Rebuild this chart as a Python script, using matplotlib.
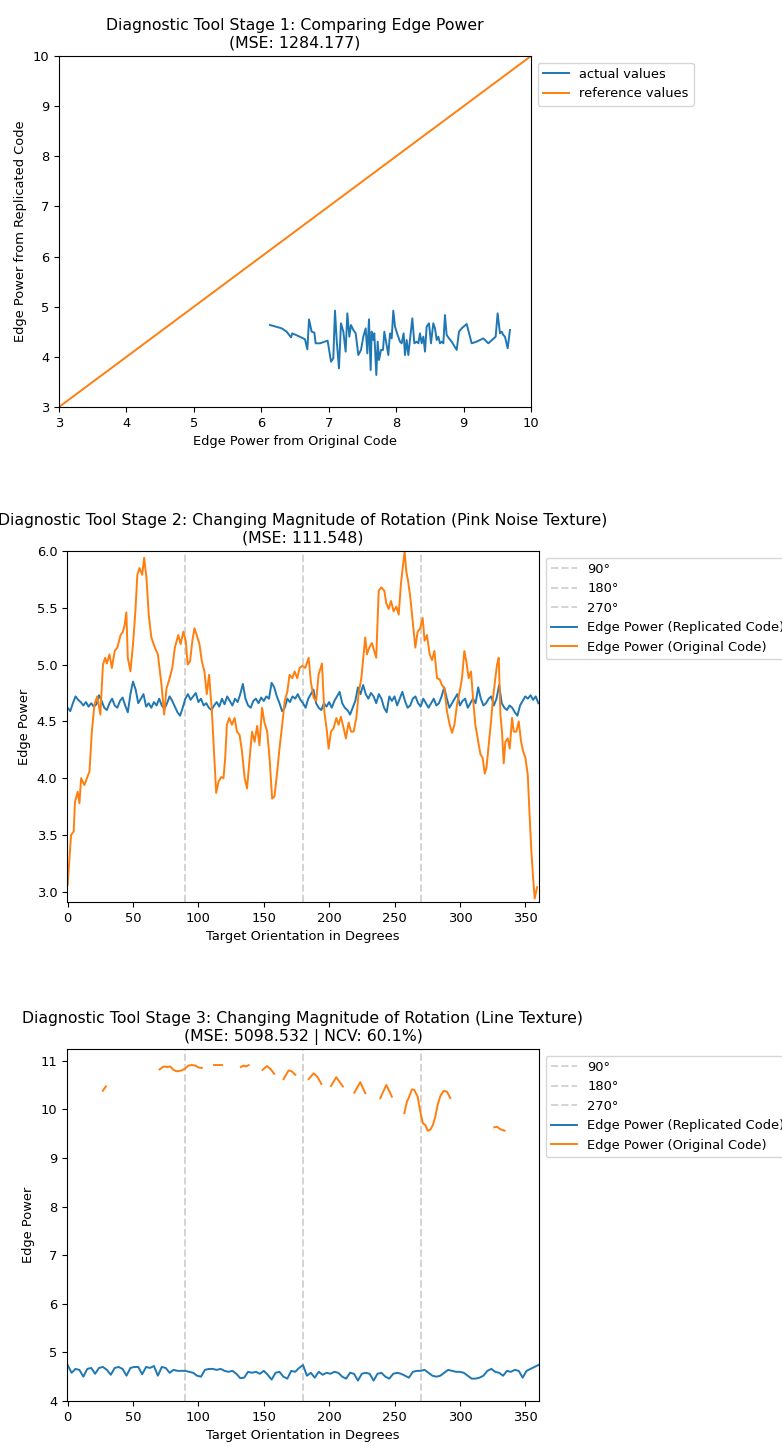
import numpy as np
import matplotlib
matplotlib.use("Agg")
import matplotlib.pyplot as plt

plt.rcParams['font.size'] = 9.4
plt.rcParams['axes.titlesize'] = 11.3
plt.rcParams['lines.linewidth'] = 1.4

# Stage 1: edge power, original vs replicated
s1_orig = [6.129, 6.302, 6.376, 6.441, 6.460, 6.549, 6.648, 6.683, 6.708, 6.747,
           6.787, 6.806, 6.871, 6.984, 7.034, 7.068, 7.093, 7.118, 7.152, 7.182,
           7.217, 7.251, 7.276, 7.306, 7.330, 7.365, 7.400, 7.439, 7.479, 7.513,
           7.548, 7.573, 7.597, 7.622, 7.637, 7.662, 7.676, 7.706, 7.726, 7.746,
           7.775, 7.805, 7.825, 7.859, 7.884, 7.909, 7.934, 7.958, 7.983, 8.022,
           8.057, 8.082, 8.111, 8.131, 8.156, 8.181, 8.210, 8.240, 8.270, 8.304,
           8.329, 8.354, 8.378, 8.403, 8.428, 8.452, 8.487, 8.517, 8.551, 8.576,
           8.601, 8.626, 8.650, 8.675, 8.700, 8.724, 8.749, 8.784, 8.823, 8.898,
           8.932, 8.972, 9.046, 9.120, 9.194, 9.293, 9.367, 9.476, 9.505, 9.540,
           9.565, 9.589, 9.614, 9.654, 9.688]
s1_repl = [4.635, 4.569, 4.502, 4.389, 4.469, 4.416, 4.350, 4.150, 4.748, 4.502,
           4.483, 4.270, 4.270, 4.323, 3.904, 3.971, 4.921, 4.336, 3.771, 4.669,
           4.502, 4.104, 4.868, 4.403, 4.635, 4.536, 4.469, 4.037, 4.137, 4.403,
           4.569, 4.070, 4.748, 3.738, 4.502, 4.336, 4.469, 3.638, 4.303, 3.937,
           4.137, 4.137, 4.502, 4.237, 4.037, 4.469, 4.369, 4.921, 4.602, 4.436,
           4.303, 4.270, 4.469, 4.037, 4.336, 4.037, 4.403, 4.768, 4.270, 4.303,
           4.270, 4.469, 4.270, 4.403, 4.104, 4.602, 4.669, 4.270, 4.669, 4.569,
           4.336, 4.403, 4.270, 4.303, 4.270, 4.835, 4.436, 4.369, 4.303, 4.137,
           4.502, 4.569, 4.655, 4.270, 4.303, 4.369, 4.270, 4.403, 4.868, 4.469,
           4.502, 4.436, 4.403, 4.170, 4.536]
ref_line = [3, 10]

# Stage 2: pink noise texture
s2_orig_deg = [0, 2.6, 4.6, 5.6, 7.7, 9, 10.3, 12.8, 16.7, 18.5, 20.5, 22.6, 25, 27,
               28.7, 30, 32, 33.8, 36, 38, 40.5, 42.3, 43.6, 44.9, 46, 48, 50, 51.8,
               53.3, 55, 57, 58.5, 60.3, 62, 64, 66.7, 69, 71.8, 73.8, 75.6, 78, 80,
               82, 84.6, 86.4, 88.5, 90.3, 91.8, 93.6, 95.4, 97, 98.7, 100.8, 102.6,
               104.6, 106.4, 108.2, 110.3, 112.3, 113.6, 115.4, 117.4, 119.2, 120.5,
               121.8, 123.6, 125.6, 127.7, 129.5, 131.5, 133.3, 135.4, 137.2, 139,
               141, 143, 144.9, 146.7, 148.7, 150.5, 152.6, 154.4, 156.4, 158.2,
               160.3, 162, 164, 166, 168, 169.7, 171.8, 173.6, 175.6, 177.4, 179.5,
               181.7, 184.3, 186, 188.1, 190.1, 191.9, 194.5, 196.3, 198.3, 199.6,
               201.4, 203.4, 205.5, 207.2, 209, 211.1, 212.8, 214.9, 216.7, 218.7,
               220.8, 222.5, 224.6, 225.9, 227.6, 228.9, 230.7, 232.7, 234.5, 236,
               237.9, 239.9, 242.2, 243.7, 245.5, 247.3, 249.3, 251.4, 253.2, 254.9,
               256.5, 257.7, 259, 260.3, 262.1, 263.9, 265.9, 267.7, 269.7, 271.5,
               273, 274.8, 276.9, 278.7, 280.5, 282.5, 284.5, 286.3, 288.1, 290.1,
               292.2, 294, 295.8, 297.8, 299.8, 301.6, 303.4, 304.9, 306.7, 308.5,
               310, 311.8, 313.6, 315.7, 317.4, 319, 320.3, 322, 323.8, 325.4, 327.1,
               328.4, 329.7, 331, 332.2, 333.5, 334.8, 336.6, 338.1, 339.9, 341.2,
               343.2, 345, 346.8, 348.3, 350.1, 351.9, 353.4, 354.7, 356, 357.2, 359]
s2_orig = [3.06, 3.5, 3.53, 3.79, 3.88, 3.78, 4.0, 3.94, 4.06, 4.41, 4.65, 4.72, 4.56,
           5.0, 5.06, 5.01, 5.09, 4.97, 5.12, 5.15, 5.26, 5.29, 5.35, 5.46, 5.06,
           4.94, 5.18, 5.47, 5.79, 5.85, 5.79, 5.94, 5.76, 5.44, 5.24, 5.15, 5.09,
           4.82, 4.56, 4.79, 4.88, 4.97, 5.15, 5.26, 5.18, 5.29, 5.21, 5.0, 5.03,
           5.21, 5.32, 5.26, 5.18, 5.03, 4.94, 4.74, 4.91, 4.59, 4.15, 3.87, 3.97,
           4.01, 4.0, 4.18, 4.47, 4.53, 4.47, 4.53, 4.41, 4.38, 4.24, 4.0, 3.91,
           4.15, 4.41, 4.32, 4.46, 4.29, 4.62, 4.49, 4.41, 4.18, 3.82, 3.84, 4.06,
           4.26, 4.46, 4.68, 4.76, 4.91, 4.88, 4.94, 4.88, 4.97, 4.99,
           4.97, 5.06, 4.85, 4.71, 4.68, 4.91, 5.01, 4.59, 4.41, 4.26, 4.41, 4.44,
           4.53, 4.47, 4.54, 4.44, 4.35, 4.49, 4.41, 4.41, 4.53, 4.74, 4.88, 5.04,
           5.24, 5.09, 5.15, 5.19, 5.12, 5.06, 5.65, 5.68, 5.65, 5.54, 5.49, 5.56,
           5.47, 5.51, 5.44, 5.71, 5.88, 6.0, 5.82, 5.74, 5.59, 5.38, 5.15, 5.29,
           5.32, 5.41, 5.21, 5.26, 5.09, 5.04, 5.12, 4.88, 4.87, 4.82, 4.79, 4.59,
           4.47, 4.4, 4.47, 4.65, 4.76, 4.88, 5.12, 5.03, 4.88, 4.94, 4.71, 4.47,
           4.35, 4.21, 4.18, 4.04, 4.09, 4.29, 4.5, 4.71, 4.88, 5.0, 5.06, 4.56,
           4.41, 4.13, 4.32, 4.35, 4.26, 4.53, 4.41, 4.41, 4.5, 4.32, 4.24, 4.18,
           4.03, 3.65, 3.35, 3.12, 2.94, 3.04]
# replicated values on a 2 degree grid, 0..360
s2_repl = [4.62, 4.59, 4.66, 4.72, 4.69, 4.67, 4.64, 4.67, 4.63, 4.66, 4.63, 4.65,
           4.73, 4.68, 4.62, 4.60, 4.66, 4.70, 4.64, 4.62, 4.68, 4.71, 4.64, 4.58,
           4.74, 4.85, 4.78, 4.66, 4.70, 4.74, 4.63, 4.66, 4.62, 4.67, 4.64, 4.70,
           4.64, 4.61, 4.66, 4.72, 4.68, 4.63, 4.58, 4.55, 4.62, 4.70, 4.74, 4.69,
           4.72, 4.75, 4.67, 4.70, 4.64, 4.66, 4.62, 4.60, 4.64, 4.67, 4.63, 4.70,
           4.65, 4.72, 4.68, 4.64, 4.70, 4.67, 4.74, 4.83, 4.70, 4.64, 4.62, 4.68,
           4.70, 4.66, 4.71, 4.68, 4.72, 4.70, 4.84, 4.80, 4.72, 4.66, 4.59, 4.62,
           4.70, 4.67, 4.72, 4.70, 4.74, 4.69, 4.66, 4.62, 4.70, 4.74, 4.78, 4.66,
           4.62, 4.60, 4.66, 4.63, 4.67, 4.62, 4.68, 4.72, 4.76, 4.66, 4.62, 4.60,
           4.56, 4.62, 4.68, 4.80, 4.74, 4.82, 4.74, 4.70, 4.75, 4.72, 4.66, 4.74,
           4.70, 4.62, 4.58, 4.72, 4.68, 4.72, 4.64, 4.70, 4.76, 4.68, 4.62, 4.64,
           4.70, 4.72, 4.66, 4.63, 4.70, 4.66, 4.62, 4.66, 4.70, 4.64, 4.66, 4.72,
           4.80, 4.70, 4.62, 4.66, 4.70, 4.74, 4.64, 4.68, 4.70, 4.62, 4.66, 4.70,
           4.66, 4.80, 4.70, 4.64, 4.66, 4.70, 4.72, 4.64, 4.70, 4.82, 4.66, 4.62,
           4.60, 4.64, 4.62, 4.58, 4.55, 4.64, 4.68, 4.72, 4.70, 4.73, 4.69, 4.72,
           4.66]

# Stage 3: line texture (nan = no value)
nan = np.nan
s3_orig_deg = [26.9, 29.2, 29.5,
               70.3, 73.3, 76.4, 78.4, 81, 83.5, 87.3, 89.9, 92.4, 95, 97.6, 100.1, 102.6, 103,
               112, 115, 118, 118.5,
               132.5, 134.5, 136.5, 138.4, 139,
               149.1, 152.4, 155.4, 158, 158.5,
               165.1, 169, 171.5, 174.1, 174.5,
               184.3, 188.1, 191.2, 194, 194.5,
               201.4, 205.4, 210.5, 211,
               219.2, 223.8, 227.6, 228,
               239.1, 243.7, 248, 248.5,
               257.5, 259.5, 260.8, 263.3, 265, 267.7, 269.7, 271.7, 273.5, 275.3,
               277.4, 279.4, 281.2, 283, 285, 287.6, 290.1, 292.7, 293,
               326.3, 328.5, 330.9, 334.2]
s3_orig = [10.38, 10.47, nan,
           10.82, 10.88, 10.87, 10.88, 10.81, 10.78, 10.80, 10.84, 10.90, 10.91, 10.90, 10.86, 10.85, nan,
           10.91, 10.91, 10.91, nan,
           10.87, 10.90, 10.88, 10.91, nan,
           10.81, 10.89, 10.82, 10.73, nan,
           10.62, 10.80, 10.78, 10.71, nan,
           10.62, 10.74, 10.66, 10.52, nan,
           10.48, 10.66, 10.47, nan,
           10.34, 10.56, 10.33, nan,
           10.23, 10.50, 10.26, nan,
           9.92, 10.16, 10.23, 10.41, 10.40, 10.26, 9.95, 9.71, 9.68, 9.56,
           9.58, 9.68, 9.85, 10.09, 10.27, 10.38, 10.36, 10.23, nan,
           9.63, 9.64, 9.59, 9.56]
s3_repl = [4.74, 4.58, 4.66, 4.64, 4.50, 4.66, 4.68, 4.56, 4.68, 4.70, 4.64, 4.54,
           4.68, 4.70, 4.66, 4.52, 4.68, 4.70, 4.70, 4.55, 4.70, 4.68, 4.72, 4.52,
           4.70, 4.68, 4.58, 4.64, 4.62, 4.62, 4.62, 4.60, 4.58, 4.52, 4.50, 4.64,
           4.66, 4.66, 4.64, 4.66, 4.62, 4.60, 4.62, 4.56, 4.47, 4.48, 4.60, 4.58,
           4.60, 4.56, 4.62, 4.54, 4.44, 4.58, 4.60, 4.50, 4.46, 4.62, 4.60, 4.68,
           4.74, 4.52, 4.58, 4.48, 4.60, 4.54, 4.58, 4.56, 4.60, 4.58, 4.50, 4.46,
           4.58, 4.56, 4.42, 4.56, 4.58, 4.56, 4.42, 4.56, 4.58, 4.50, 4.46, 4.56,
           4.58, 4.56, 4.52, 4.48, 4.60, 4.62, 4.62, 4.64, 4.58, 4.52, 4.50, 4.52,
           4.58, 4.64, 4.62, 4.60, 4.60, 4.58, 4.52, 4.46, 4.46, 4.48, 4.52, 4.62,
           4.66, 4.60, 4.58, 4.52, 4.62, 4.60, 4.64, 4.62, 4.48, 4.62, 4.66, 4.70,
           4.74]

marks = [90, 180, 270]
mark_labels = ['90°', '180°', '270°']
deg_ticks = [0, 50, 100, 150, 200, 250, 300, 350]

fig = plt.figure(figsize=(7.82, 14.46), dpi=100)

# ---- stage 1
ax1 = fig.add_axes([59/782, 1 - 407/1446, 472/782, 351/1446])
ax1.plot(s1_orig, s1_repl, color='#1f77b4', label='actual values')
ax1.plot(ref_line, ref_line, color='#ff7f0e', label='reference values')
ax1.set_xlim(3, 10)
ax1.set_ylim(3, 10)
ax1.set_title('Diagnostic Tool Stage 1: Comparing Edge Power\n(MSE: 1284.177)')
ax1.set_xlabel('Edge Power from Original Code')
ax1.set_ylabel('Edge Power from Replicated Code')
ax1.legend(loc='upper left', bbox_to_anchor=(1, 1))


def rotation_panel(ax, deg_r, repl, deg_o, orig, title, ylim):
    for m, lab in zip(marks, mark_labels):
        ax.axvline(m, color='lightgray', linestyle='--', label=lab)
    ax.plot(deg_r, repl, color='#1f77b4', label='Edge Power (Replicated Code)')
    ax.plot(deg_o, orig, color='#ff7f0e', label='Edge Power (Original Code)')
    ax.set_xlim(-0.5, 360.5)
    ax.set_ylim(*ylim)
    ax.set_xticks(deg_ticks)
    ax.set_title(title)
    ax.set_xlabel('Target Orientation in Degrees')
    ax.set_ylabel('Edge Power')
    ax.legend(loc='upper left', bbox_to_anchor=(1, 1))


# ---- stage 2
ax2 = fig.add_axes([67/782, 1 - 902/1446, 472/782, 351/1446])
rotation_panel(ax2, np.linspace(0, 360, len(s2_repl)), s2_repl, s2_orig_deg, s2_orig,
               'Diagnostic Tool Stage 2: Changing Magnitude of Rotation (Pink Noise Texture)\n(MSE: 111.548)',
               (2.91, 6.0))

# ---- stage 3
ax3 = fig.add_axes([67/782, 1 - 1401/1446, 472/782, 352/1446])
rotation_panel(ax3, np.linspace(0, 360, len(s3_repl)), s3_repl, s3_orig_deg, s3_orig,
               'Diagnostic Tool Stage 3: Changing Magnitude of Rotation (Line Texture)\n(MSE: 5098.532 | NCV: 60.1%)',
               (4, 11.24))

fig.savefig('out.png', dpi=100)
